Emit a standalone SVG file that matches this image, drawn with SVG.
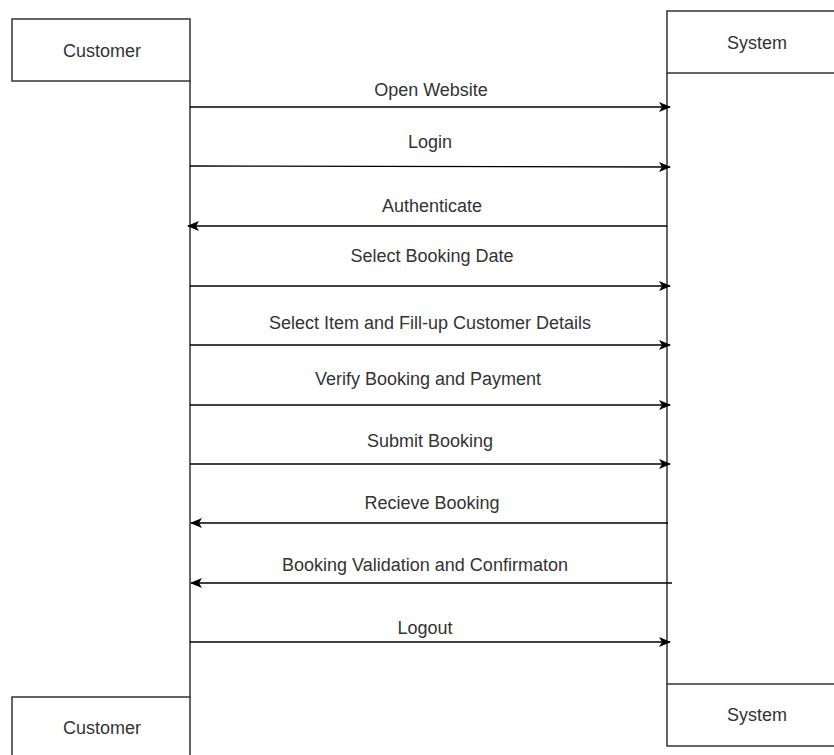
<svg xmlns="http://www.w3.org/2000/svg" width="834" height="755" viewBox="0 0 834 755">
<style>
.box{fill:#fff;stroke:#333;stroke-width:1.5}
.life{stroke:#333;stroke-width:1.5;fill:none}
.msg{stroke:#000;stroke-width:1.3;fill:none}
text{font-family:"Liberation Sans",Arial,sans-serif;font-size:18px;fill:#333;text-anchor:middle}
</style>
<defs>
<marker id="ah" markerWidth="12" markerHeight="10" refX="11" refY="5" orient="auto" markerUnits="userSpaceOnUse">
<path d="M0,0 L12,5 L0,10 L3,5 z" fill="#000"/>
</marker>
</defs>
<g id="customer-top"><rect class="box" x="12" y="19" width="178" height="62"/><text x="102" y="57">Customer</text></g>
<g id="system-top"><rect class="box" x="667" y="11" width="180" height="62"/><text x="757" y="49">System</text></g>
<g id="customer-bottom"><rect class="box" x="12" y="697" width="178" height="70"/><text x="102" y="734">Customer</text></g>
<g id="system-bottom"><rect class="box" x="667" y="684" width="180" height="62"/><text x="757" y="721">System</text></g>
<g id="lifelines">
<line class="life" x1="190" y1="81" x2="190" y2="697"/>
<line class="life" x1="667" y1="73" x2="667" y2="684"/>
</g>
<g id="connectors">
<line class="msg" x1="190" y1="107" x2="670" y2="107" marker-end="url(#ah)"/>
<line class="msg" x1="190" y1="166" x2="670" y2="167" marker-end="url(#ah)"/>
<line class="msg" x1="667" y1="226" x2="188" y2="226" marker-end="url(#ah)"/>
<line class="msg" x1="190" y1="286" x2="670" y2="286" marker-end="url(#ah)"/>
<line class="msg" x1="190" y1="345" x2="670" y2="345" marker-end="url(#ah)"/>
<line class="msg" x1="190" y1="405" x2="670" y2="405" marker-end="url(#ah)"/>
<line class="msg" x1="190" y1="464" x2="670" y2="464" marker-end="url(#ah)"/>
<line class="msg" x1="668" y1="523" x2="191" y2="523" marker-end="url(#ah)"/>
<line class="msg" x1="672" y1="583" x2="191" y2="583" marker-end="url(#ah)"/>
<line class="msg" x1="190" y1="642" x2="670" y2="642" marker-end="url(#ah)"/>
</g>
<g id="labels">
<text x="431" y="96">Open Website</text>
<text x="430" y="148">Login</text>
<text x="432" y="212">Authenticate</text>
<text x="432" y="262">Select Booking Date</text>
<text x="430" y="329">Select Item and Fill-up Customer Details</text>
<text x="428" y="385">Verify Booking and Payment</text>
<text x="430" y="447">Submit Booking</text>
<text x="432" y="509">Recieve Booking</text>
<text x="425" y="571">Booking Validation and Confirmaton</text>
<text x="425" y="634">Logout</text>
</g>
</svg>
